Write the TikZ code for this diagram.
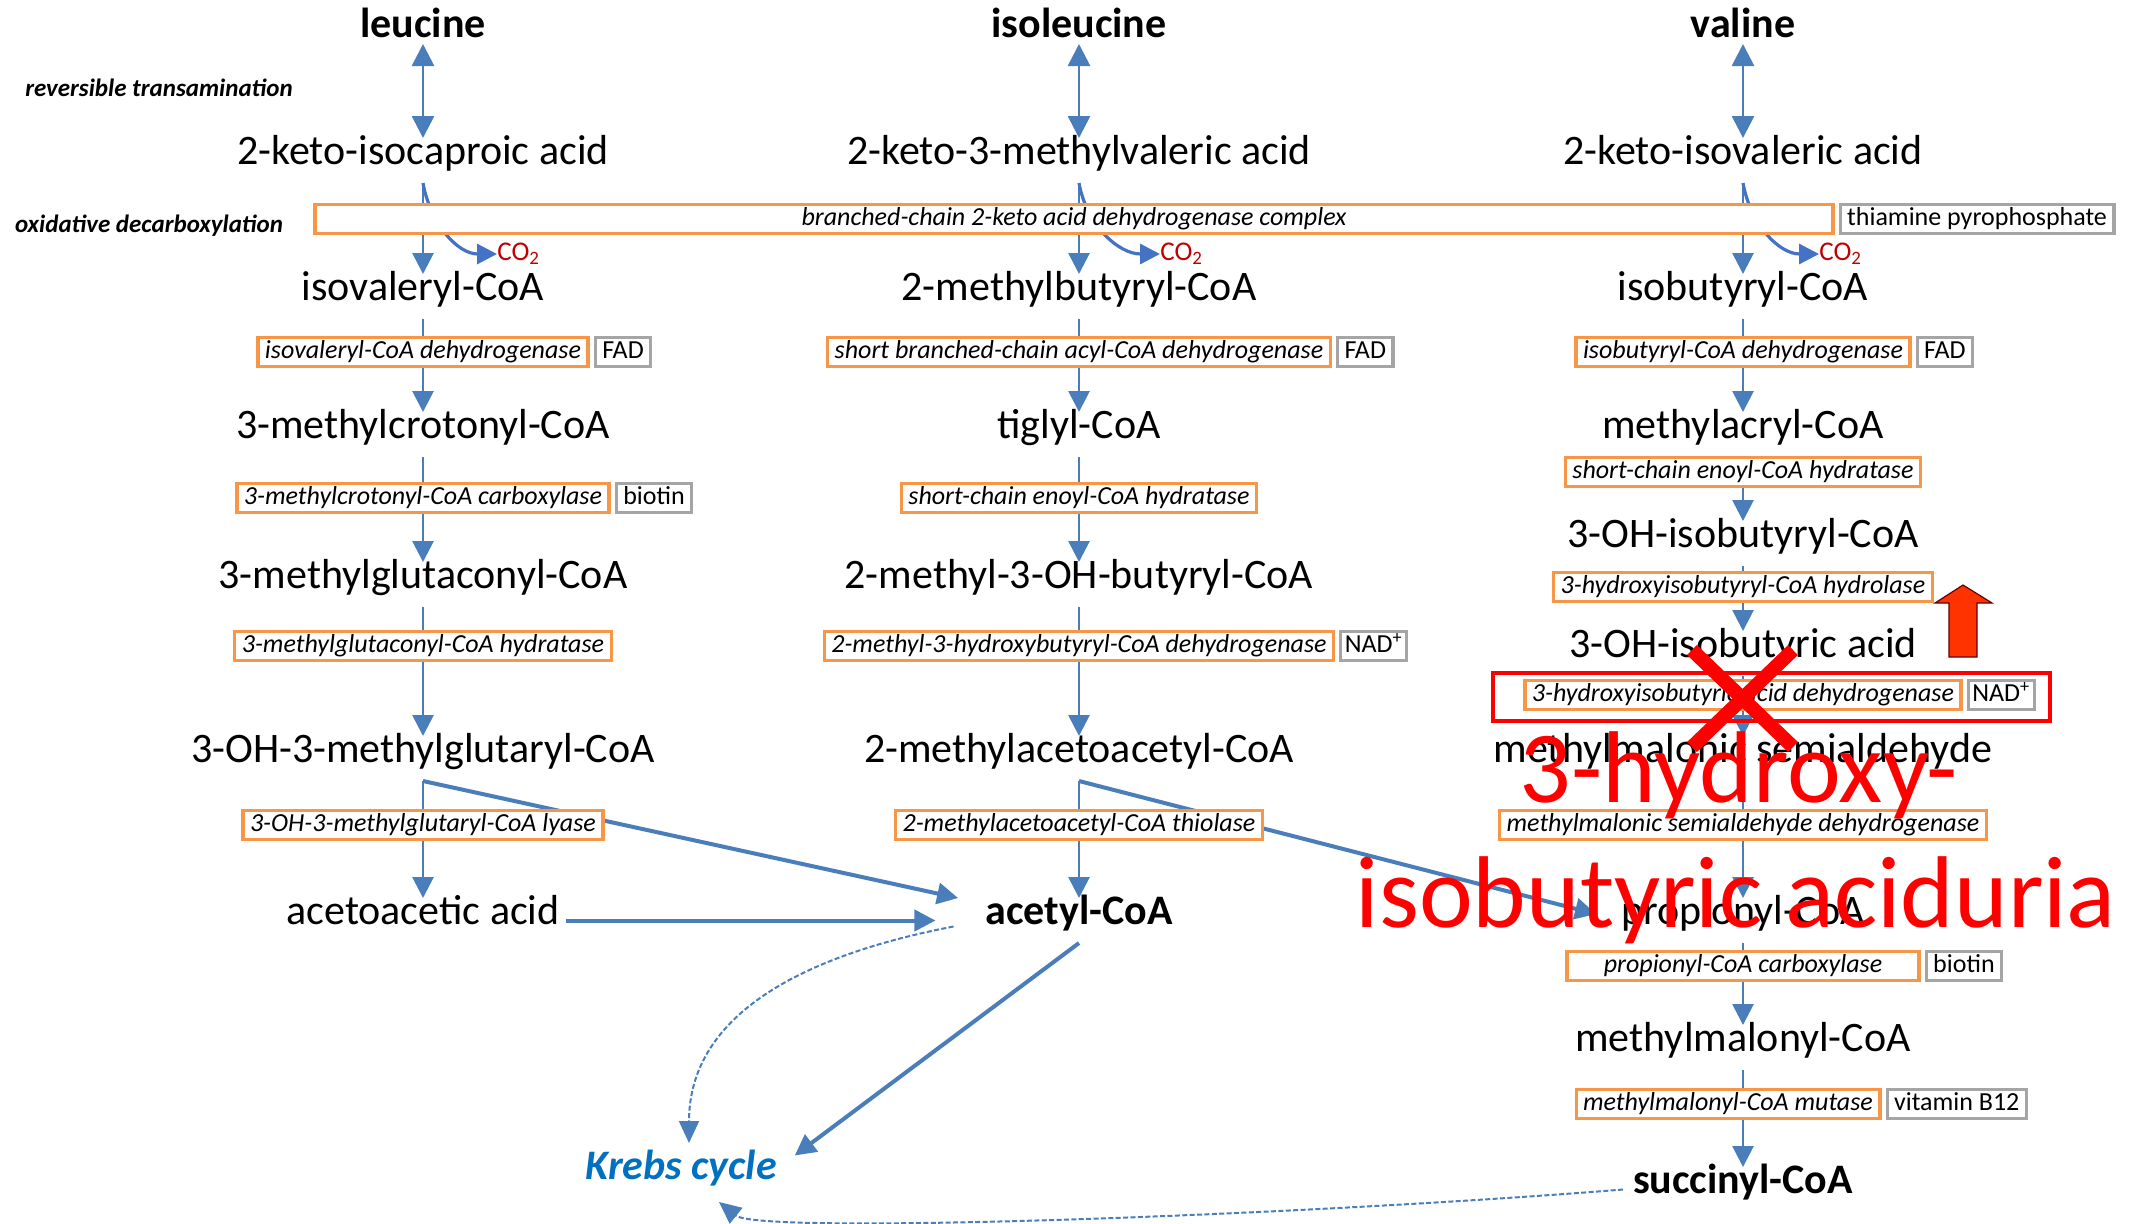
\documentclass[tikz,border=0pt]{standalone}
\usepackage{fontspec}
\setmainfont{Carlito}
\usepackage{tikz}
\usetikzlibrary{positioning, arrows.meta}
\definecolor{pathblue}{HTML}{4A7EBB}
\definecolor{co2blue}{HTML}{4472C4}
\definecolor{co2red}{HTML}{C00000}
\definecolor{enzorange}{HTML}{F79646}
\definecolor{cofgray}{HTML}{A5A5A5}
\definecolor{krebsblue}{HTML}{0070C0}
\definecolor{defectred}{HTML}{FF0000}
\definecolor{upfill}{HTML}{FF3300}
\tikzset{
	met/.style={
		font=\fontsize{21}{25}\selectfont,
		text height=13pt,
		text depth=9.5pt,
		inner sep=0pt,
		outer sep=0pt,
		anchor=base
	},
	metb/.style={met, font=\fontsize{21}{25}\selectfont\bfseries},
	amino/.style={metb, text depth=3.5pt},
	enz/.style={
		draw=enzorange,
		line width=1.6pt,
		fill=white,
		font={\fontsize{13}{15}\selectfont\itshape},
		text height=9pt,
		text depth=3pt,
		inner xsep=3.5pt,
		inner ysep=0pt,
		minimum height=14.5pt
	},
	cof/.style={enz, draw=cofgray, font={\fontsize{13}{15}\selectfont}},
	labe/.style={
		font={\fontsize{12.5}{15}\selectfont\bfseries\itshape},
		anchor=base,
		inner sep=0pt
	},
	co2/.style={font={\fontsize{13.5}{15}\selectfont}, text=co2red, anchor=west, inner sep=0pt}
}
\begin{document}
\begin{tikzpicture}[
	x=0.5pt, y=0.5pt,
	arrw/.style = {draw=pathblue, line width=1.4pt, -{Triangle[width=10.5pt, length=10.5pt]}},
	darrw/.style = {arrw, {Triangle[width=11pt, length=11pt]}-{Triangle[width=11pt, length=11pt]}},
	farrw/.style = {arrw, line width=2pt},
	dasharrw/.style = {draw=pathblue, line width=1pt, dash pattern=on 2.5pt off 1.2pt, -{Triangle[width=10pt, length=11pt]}},
	co2arrw/.style = {draw=co2blue, line width=1.6pt, -{Triangle[width=10pt, length=10pt]}},
	krebsnode/.style = {met, font={\fontsize{21}{25}\selectfont\bfseries\itshape}, text=krebsblue},
	bigred/.style = {font={\fontsize{51}{62}\selectfont}, text=defectred, anchor=base, inner sep=0pt}
	]
	\useasboundingbox (0,0) rectangle (2138,-1223);
	
	% leucine
	\node[amino] (leu) at (423,-37) {leucine};
	\node[met] (kic) at (423,-164) {2-keto-isocaproic acid};
	\node[met] (iva) at (423,-300) {isovaleryl-CoA};
	\node[met] (mcc) at (423,-438) {3-methylcrotonyl-CoA};
	\node[met] (mgc) at (423,-588) {3-methylglutaconyl-CoA};
	\node[met] (hmg) at (423,-762) {3-OH-3-methylglutaryl-CoA};
	\node[met] (aca) at (423,-924) {acetoacetic acid};
	
	% isoleucine
	\node[amino] (ile) at (1079,-37) {isoleucine};
	\node[met] (kmv) at (1079,-164) {2-keto-3-methylvaleric acid};
	\node[met] (mbc) at (1079,-300) {2-methylbutyryl-CoA};
	\node[met] (tig) at (1079,-438) {tiglyl-CoA};
	\node[met] (mhb) at (1079,-588) {2-methyl-3-OH-butyryl-CoA};
	\node[met] (mac) at (1079,-762) {2-methylacetoacetyl-CoA};
	\node[metb] (acoa) at (1079,-924) {acetyl-CoA};
	
	% valine
	\node[amino] (val) at (1743,-37) {valine};
	\node[met] (kiv) at (1743,-164) {2-keto-isovaleric acid};
	\node[met] (ibc) at (1743,-300) {isobutyryl-CoA};
	\node[met] (macr) at (1743,-438) {methylacryl-CoA};
	\node[met] (hibc) at (1743,-547) {3-OH-isobutyryl-CoA};
	\node[met] (hiba) at (1743,-657) {3-OH-isobutyric acid};
	\node[met] (msa) at (1743,-762) {methylmalonic semialdehyde};
	\node[met] (pcoa) at (1743,-924) {propionyl-CoA};
	\node[met] (mmc) at (1743,-1051) {methylmalonyl-CoA};
	\node[metb] (scoa) at (1743,-1193) {succinyl-CoA};
	
	\node[krebsnode] (krebs) at (681,-1179) {Krebs cycle};
	
	\node[labe] (revlab) at (159,-96) {reversible transamination};
	\node[labe] (oxlab) at (149,-232) {oxidative decarboxylation};
	
	\node[co2] (co2l) at (497,-254) {CO\textsubscript{2}};
	\node[co2] (co2i) at (1160,-254) {CO\textsubscript{2}};
	\node[co2] (co2v) at (1819,-254) {CO\textsubscript{2}};
	
	% connectors
	\draw[darrw] (leu) -- (kic);
	\draw[arrw] (kic) -- (iva);
	\draw[co2arrw] (kic.south) to[out=-80, in=180] (co2l.west);
	\draw[arrw] (iva) -- (mcc);
	\draw[arrw] (mcc) -- (mgc);
	\draw[arrw] (mgc) -- (hmg);
	\draw[arrw] (hmg) -- (aca);
	\draw[farrw, shorten >=14pt] (hmg.south) -- (acoa.170);
	\draw[farrw, shorten <=3pt, shorten >=25pt] (aca) -- (acoa);
	
	\draw[darrw] (ile) -- (kmv);
	\draw[arrw] (kmv) -- (mbc);
	\draw[co2arrw] (kmv.south) to[out=-80, in=180] (co2i.west);
	\draw[arrw] (mbc) -- (tig);
	\draw[arrw] (tig) -- (mhb);
	\draw[arrw] (mhb) -- (mac);
	\draw[arrw] (mac) -- (acoa);
	\draw[farrw, shorten >=13pt] (mac.south) -- (pcoa.west);
	
	\draw[darrw] (val) -- (kiv);
	\draw[arrw] (kiv) -- (ibc);
	\draw[co2arrw] (kiv.south) to[out=-80, in=180] (co2v.west);
	\draw[arrw] (ibc) -- (macr);
	\draw[arrw] (macr) -- (hibc);
	\draw[arrw] (hibc) -- (hiba);
	\draw[arrw] (hiba) -- (msa);
	\draw[arrw] (msa) -- (pcoa);
	\draw[arrw] (pcoa) -- (mmc);
	\draw[arrw] (mmc) -- (scoa);
	
	\draw[farrw] (acoa.south) -- ([xshift=9pt,yshift=10pt]krebs.east);
	\draw[dasharrw] ([xshift=-16pt,yshift=-3pt]acoa.west) .. controls +(-125,-24) and +(0,140) .. ([xshift=4pt,yshift=5pt]krebs.north);
	\draw[dasharrw] ([xshift=-5pt]scoa.west) .. controls +(-323,-26) and +(41,-33) .. ([xshift=19pt,yshift=-2pt]krebs.south);
	
	% enzymes and cofactors
	\node[enz, minimum width=759pt] (bckd) at (1074,-219) {branched-chain 2-keto acid dehydrogenase complex};
	\node[cof, right = 2pt of bckd] (tpp) {thiamine pyrophosphate};
	
	\node[enz] (ivd) at (423,-352) {isovaleryl-CoA dehydrogenase};
	\node[cof, right = 2pt of ivd] (fad1) {FAD};
	\node[enz] (mcca) at (423,-498) {3-methylcrotonyl-CoA carboxylase};
	\node[cof, right = 2pt of mcca] (bio1) {biotin};
	\node[enz] (mgh) at (423,-646) {3-methylglutaconyl-CoA hydratase};
	\node[enz] (hmgl) at (423,-825) {3-OH-3-methylglutaryl-CoA lyase};
	
	\node[enz] (sbcad) at (1079,-352) {short branched-chain acyl-CoA dehydrogenase};
	\node[cof, right = 2pt of sbcad] (fad2) {FAD};
	\node[enz] (ech1) at (1079,-498) {short-chain enoyl-CoA hydratase};
	\node[enz] (mhbd) at (1079,-646) {2-methyl-3-hydroxybutyryl-CoA dehydrogenase};
	\node[cof, inner xsep=2pt, right = 2pt of mhbd] (nad1) {NAD\textsuperscript{+}};
	\node[enz] (mat) at (1079,-825) {2-methylacetoacetyl-CoA thiolase};
	
	\node[enz] (ibd) at (1743,-352) {isobutyryl-CoA dehydrogenase};
	\node[cof, right = 2pt of ibd] (fad3) {FAD};
	\node[enz] (ech2) at (1743,-472) {short-chain enoyl-CoA hydratase};
	\node[enz] (hibch) at (1743,-587) {3-hydroxyisobutyryl-CoA hydrolase};
	\node[enz] (hibadh) at (1743,-695) {3-hydroxyisobutyric acid dehydrogenase};
	\node[cof, inner xsep=2pt, right = 2pt of hibadh] (nad2) {NAD\textsuperscript{+}};
	\node[enz] (mmsdh) at (1743,-825) {methylmalonic semialdehyde dehydrogenase};
	\node[enz, minimum width=176pt] (pcc) at (1743,-966) {propionyl-CoA carboxylase};
	\node[cof, right = 2pt of pcc] (bio2) {biotin};
	\node[enz] (mcm) at (1728,-1104) {methylmalonyl-CoA mutase};
	\node[cof, right = 2pt of mcm] (b12) {vitamin B12};
	
	% defect
	\draw[defectred, line width=2pt] ([xshift=-15pt,yshift=3pt]hibadh.north west) rectangle ([xshift=7pt,yshift=-5pt]nad2.south east);
	\draw[defectred, line width=7pt] (1692,-650) -- (1793,-747) (1793,-650) -- (1692,-747);
	\draw[fill=upfill, draw=black!60!red, line width=0.6pt] (1949,-657) -- (1949,-603) -- (1935,-603) -- (1963,-585) -- (1992,-603) -- (1977,-603) -- (1977,-657) -- cycle;
	\node[bigred] (dx1) at (1739,-802) {3-hydroxy-};
	\node[bigred] (dx2) at (1736,-927) {isobutyric aciduria};
	
\end{tikzpicture}
\end{document}
